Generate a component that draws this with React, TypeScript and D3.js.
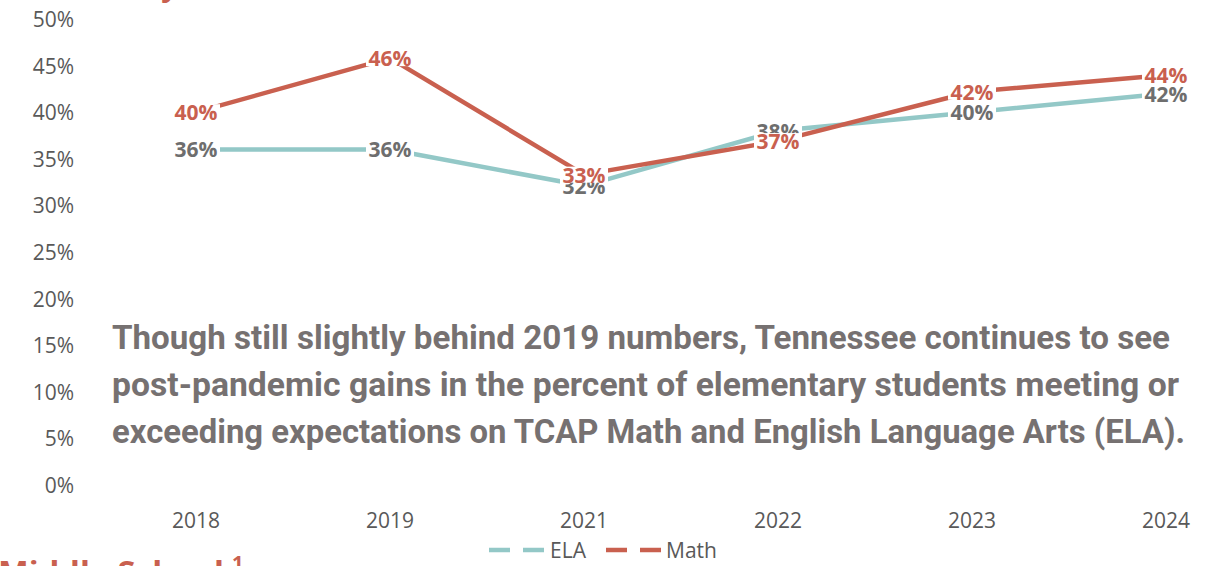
import React from "react";
import * as d3 from "d3";

const years = ["2018", "2019", "2021", "2022", "2023", "2024"];
const elaValues = [0.36, 0.36, 0.321, 0.38, 0.40, 0.42];
const mathValues = [0.40, 0.458, 0.333, 0.369, 0.422, 0.44];
const yTicks = [0, 0.05, 0.1, 0.15, 0.2, 0.25, 0.3, 0.35, 0.4, 0.45, 0.5];
const seriesNames = ["ELA", "Math"];
const noteLines = [
  "Though still slightly behind 2019 numbers, Tennessee continues to see",
  "post-pandemic gains in the percent of elementary students meeting or",
  "exceeding expectations on TCAP Math and English Language Arts (ELA).",
];
const noteLengths = [1058, 1067, 1073];

const W = 1220;
const H = 566;
const TEAL = "#93c8c7";
const RED = "#c9604f";
const AXIS_TEXT = "#595959";
const ELA_LABEL = "#6e6e6e";
const NOTE = "#767171";
const FONT = "'Open Sans', 'Noto Sans', sans-serif";

export default function App() {
  const x = d3.scalePoint<string>().domain(years).range([196, 1166]);
  const y = d3.scaleLinear().domain([0, 0.5]).range([485, 19]);
  const line = d3
    .line<number>()
    .x((_, i) => x(years[i]) as number)
    .y((d) => y(d));
  const fmt = d3.format(".0%");

  const series = [
    { name: seriesNames[0], values: elaValues, color: TEAL, labelColor: ELA_LABEL },
    { name: seriesNames[1], values: mathValues, color: RED, labelColor: RED },
  ];

  return (
    <svg
      width={W}
      height={H}
      style={{ position: "absolute", left: 0, top: 0, background: "#fff" }}
      fontFamily={FONT}
    >
      <rect x={0} y={0} width={W} height={H} fill="#fff" />
      {/* cut-off headings */}
      <text x={6} y={-4} fontSize={30} fontWeight={700} fill={RED}>
        Elementary
      </text>
      <text x={-2} y={583} fontSize={30} fontWeight={700} fill={RED} textLength={226} lengthAdjust="spacingAndGlyphs">
        Middle School
      </text>
      <text x={232} y={570} fontSize={20} fontWeight={700} fill={RED}>
        1
      </text>

      {/* y axis labels */}
      {yTicks.map((t) => (
        <text
          key={t}
          x={74}
          y={y(t)}
          textAnchor="end"
          dominantBaseline="central"
          fontSize={21}
          fill={AXIS_TEXT}
        >
          {fmt(t)}
        </text>
      ))}

      {/* x axis labels */}
      {years.map((yr) => (
        <text
          key={yr}
          x={x(yr)}
          y={520}
          textAnchor="middle"
          dominantBaseline="central"
          fontSize={21}
          fill={AXIS_TEXT}
        >
          {yr}
        </text>
      ))}

      {/* lines */}
      {series.map((s) => (
        <path
          key={s.name}
          d={line(s.values) as string}
          fill="none"
          stroke={s.color}
          strokeWidth={4.5}
          strokeLinejoin="round"
        />
      ))}

      {/* data labels */}
      {series.map((s) => (
        <g key={s.name + "-labels"}>
          {s.values.map((v, i) => {
            const cx = x(years[i]) as number;
            const cy = y(v);
            return (
              <g key={i}>
                <rect x={cx - 24} y={cy - 8} width={48} height={16} fill="#fff" />
                <text
                  x={cx}
                  y={cy}
                  textAnchor="middle"
                  dominantBaseline="central"
                  fontSize={21}
                  fontWeight={700}
                  fill={s.labelColor}
                >
                  {fmt(v)}
                </text>
              </g>
            );
          })}
        </g>
      ))}

      {/* note text */}
      {noteLines.map((t, i) => (
        <text
          key={i}
          x={112}
          y={349 + i * 47}
          fontFamily="Roboto, sans-serif"
          fontSize={34}
          fontWeight={700}
          fill={NOTE}
          textLength={noteLengths[i]}
          lengthAdjust="spacingAndGlyphs"
        >
          {t}
        </text>
      ))}

      {/* legend */}
      <line x1={489} x2={545} y1={550} y2={550} stroke={TEAL} strokeWidth={4.5} strokeDasharray="21 13" />
      <text x={550} y={550} dominantBaseline="central" fontSize={21} fill={AXIS_TEXT}>
        {seriesNames[0]}
      </text>
      <line x1={606} x2={662} y1={550} y2={550} stroke={RED} strokeWidth={4.5} strokeDasharray="21 13" />
      <text x={666} y={550} dominantBaseline="central" fontSize={21} fill={AXIS_TEXT}>
        {seriesNames[1]}
      </text>
    </svg>
  );
}
